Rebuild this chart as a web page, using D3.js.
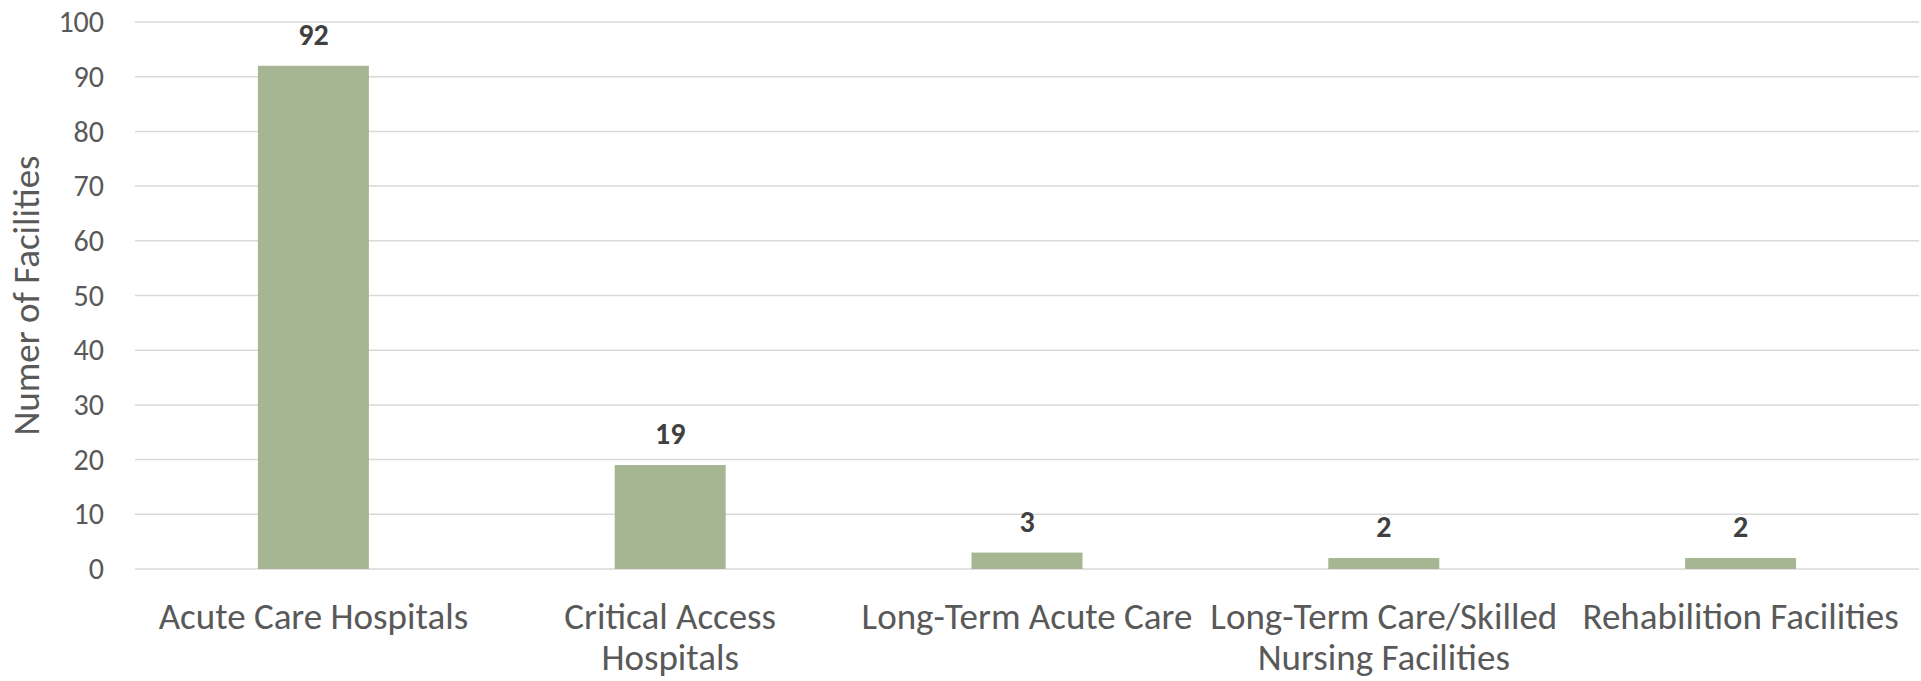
<!DOCTYPE html>
<html>
<head>
<meta charset="utf-8">
<script src="https://cdn.jsdelivr.net/npm/d3@7"></script>
<style>
  html, body { margin: 0; padding: 0; background: #fff; }
  svg { display: block; }
  text { font-family: Calibri, Carlito, Lato, "Open Sans", sans-serif; }
</style>
</head>
<body>
<svg id="chart" width="1921" height="681"></svg>
<script>
// Facility counts by type
const categories = [
  ["Acute Care Hospitals"],
  ["Critical Access", "Hospitals"],
  ["Long-Term Acute Care"],
  ["Long-Term Care/Skilled", "Nursing Facilities"],
  ["Rehabilition Facilities"]
];
const facilityCounts = [92, 19, 3, 2, 2];
const yTicks = [0, 10, 20, 30, 40, 50, 60, 70, 80, 90, 100];
const yTitle = "Numer of Facilities";

const svg = d3.select("#chart");
const margin = { top: 22, right: 2, bottom: 112, left: 135 };
const W = 1921, H = 681;
const plotW = W - margin.left - margin.right;
const plotH = H - margin.top - margin.bottom;

const keys = categories.map(c => c.join(" "));
const x = d3.scaleBand().domain(keys).range([0, plotW]).padding(0);
const y = d3.scaleLinear().domain([0, 100]).range([plotH, 0]);
const barW = x.bandwidth() * 0.311;

const g = svg.append("g").attr("transform", `translate(${margin.left},${margin.top})`);

// horizontal gridlines
g.append("g")
  .selectAll("line")
  .data(yTicks)
  .join("line")
  .attr("x1", 0).attr("x2", plotW)
  .attr("y1", d => y(d)).attr("y2", d => y(d))
  .attr("stroke", "#d9d9d9")
  .attr("stroke-width", 1.5);

// y axis tick labels
const yAxis = d3.axisLeft(y).tickValues(yTicks).tickSize(0).tickPadding(31);
const yAxisG = g.append("g").call(yAxis);
yAxisG.select(".domain").remove();
yAxisG.selectAll("text")
  .attr("fill", "#595959")
  .style("font-size", "30px")
  .style("font-family", "Calibri, Carlito, Lato, 'Open Sans', sans-serif");

// bars
g.append("g")
  .selectAll("rect")
  .data(facilityCounts)
  .join("rect")
  .attr("x", (d, i) => x(keys[i]) + (x.bandwidth() - barW) / 2)
  .attr("width", barW)
  .attr("y", d => y(d))
  .attr("height", d => y(0) - y(d))
  .attr("fill", "#a6b592");

// value labels
g.append("g")
  .selectAll("text")
  .data(facilityCounts)
  .join("text")
  .attr("x", (d, i) => x(keys[i]) + x.bandwidth() / 2)
  .attr("y", d => y(d) - 21)
  .attr("text-anchor", "middle")
  .attr("fill", "#404040")
  .style("font-size", "30px")
  .style("font-weight", "bold")
  .text(d => d);

// category labels (wrapped)
const cat = g.append("g")
  .selectAll("text")
  .data(categories)
  .join("text")
  .attr("x", (d, i) => x(keys[i]) + x.bandwidth() / 2)
  .attr("y", plotH + 60)
  .attr("text-anchor", "middle")
  .attr("fill", "#595959")
  .style("font-size", "37px");
cat.selectAll("tspan")
  .data(d => d)
  .join("tspan")
  .attr("x", function () { return this.parentNode.getAttribute("x"); })
  .attr("dy", (d, i) => i === 0 ? 0 : 41)
  .text(d => d);

// y axis title
svg.append("text")
  .attr("transform", `translate(39,${margin.top + plotH / 2}) rotate(-90)`)
  .attr("text-anchor", "middle")
  .attr("fill", "#595959")
  .style("font-size", "37px")
  .text(yTitle);
</script>
</body>
</html>
